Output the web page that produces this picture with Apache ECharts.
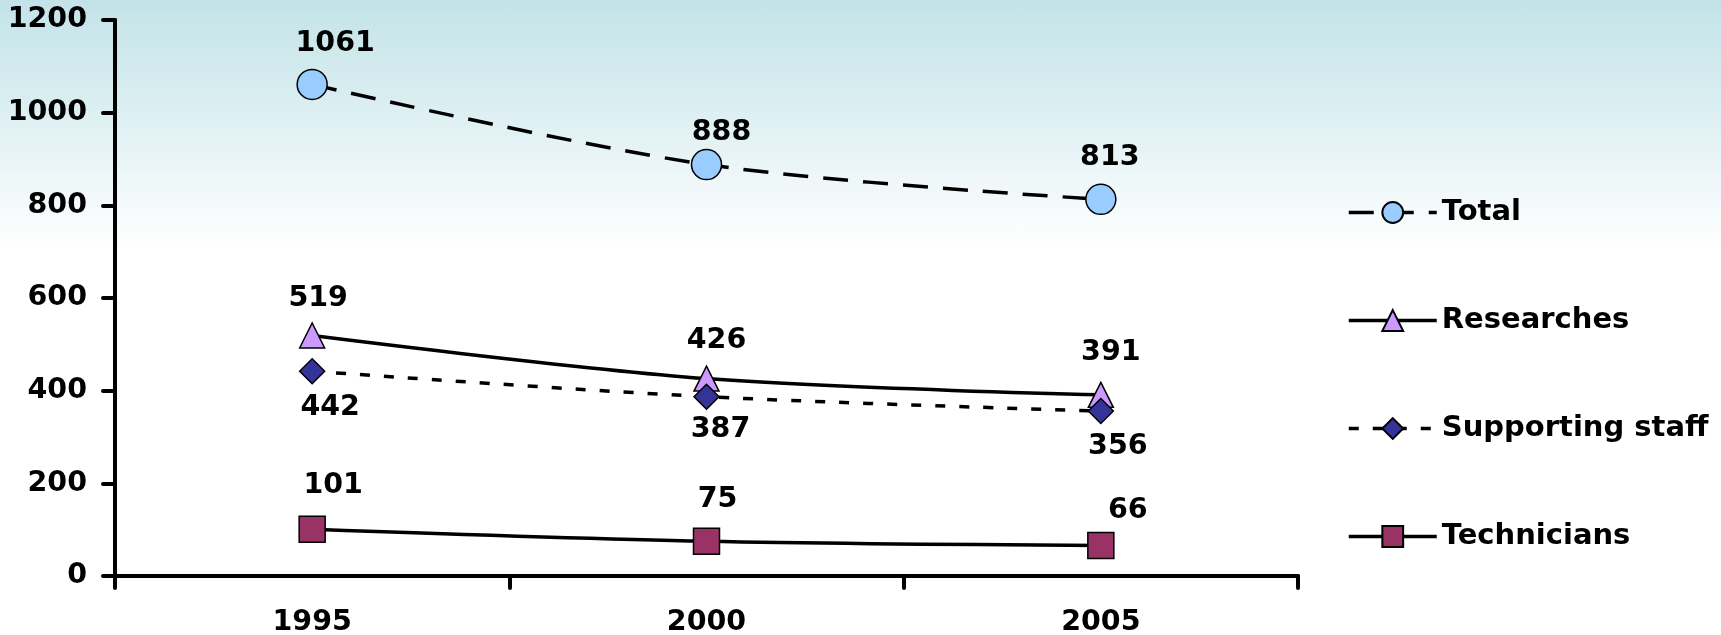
<!DOCTYPE html>
<html>
<head>
<meta charset="utf-8">
<script src="https://cdn.jsdelivr.net/npm/echarts@6/dist/echarts.min.js"></script>
<style>
  html, body { margin: 0; padding: 0; }
  #chart {
    width: 1721px; height: 635px;
    background: linear-gradient(to bottom, #c3e3e8 0px, #dceff2 110px, #f1f8fa 190px, #ffffff 250px, #ffffff 635px);
  }
</style>
</head>
<body>
<div id="chart"></div>
<script>
// Staff numbers by year
const years = ['1995', '2000', '2005'];
const total = [1061, 888, 813];
const researches = [519, 426, 391];
const supportingStaff = [442, 387, 356];
const technicians = [101, 75, 66];

// Value-axis ticks
const yMin = 0, yMax = 1200, yStep = 200;

// Label nudges (dx, dy) relative to each marker
const labelNudge = {
  total: [[23, -41], [15, -32], [9, -42]],
  researches: [[6, -37], [10, -38], [10, -42]],
  supporting: [[18, 36], [14, 33], [17, 36]],
  technicians: [[21, -44], [11, -42], [27, -35]]
};

const FONT = 'DejaVu Sans';
const LINE_W = 3.5;
const TOTAL_DASH = [25, 15];
const STAFF_DASH = [10, 14];

function withLabels(values, nudges) {
  return values.map((v, i) => ({
    value: v,
    label: { offset: nudges[i] }
  }));
}

function makeSeries(name, values, nudges, symbol, size, fill, lineType) {
  return {
    name: name,
    type: 'line',
    data: withLabels(values, nudges),
    smooth: 0.33,
    symbol: symbol,
    symbolSize: size,
    showAllSymbol: true,
    lineStyle: { color: '#000', width: LINE_W, type: lineType },
    itemStyle: { color: fill, borderColor: '#000', borderWidth: 1.5 },
    label: {
      show: true,
      position: 'inside',
      fontFamily: FONT,
      fontWeight: 'bold',
      fontSize: 28.5,
      color: '#000'
    },
    emphasis: { disabled: true }
  };
}

const chart = echarts.init(document.getElementById('chart'), null, { renderer: 'canvas' });

chart.setOption({
  backgroundColor: 'transparent',
  animation: false,
  textStyle: { fontFamily: FONT },
  grid: { left: 115, right: 423, top: 20, bottom: 59, containLabel: false, outerBoundsMode: 'none' },
  xAxis: {
    type: 'category',
    data: years,
    boundaryGap: true,
    axisLine: { lineStyle: { color: '#000', width: 4, cap: 'round' } },
    axisTick: { show: true, length: 12, inside: false, lineStyle: { color: '#000', width: 4, cap: 'round' } },
    axisLabel: { margin: 32, fontFamily: FONT, fontWeight: 'bold', fontSize: 28.5, color: '#000' },
    splitLine: { show: false }
  },
  yAxis: {
    type: 'value',
    min: yMin,
    max: yMax,
    interval: yStep,
    axisLine: { show: true, lineStyle: { color: '#000', width: 4, cap: 'round' } },
    axisTick: { show: true, length: 12, lineStyle: { color: '#000', width: 4, cap: 'round' } },
    axisLabel: {
      margin: 28, fontFamily: FONT, fontWeight: 'bold', fontSize: 28.5, color: '#000',
      formatter: v => String(v)
    },
    splitLine: { show: false }
  },
  legend: {
    orient: 'vertical',
    left: 1347,
    top: 198,
    padding: 0,
    itemWidth: 88,
    itemHeight: 26,
    itemGap: 79,
    textStyle: { fontFamily: FONT, fontWeight: 'bold', fontSize: 29, color: '#000', lineHeight: 26 },
    data: [
      { name: 'Total', lineStyle: { width: LINE_W, color: '#000', type: TOTAL_DASH } },
      { name: 'Researches', lineStyle: { width: LINE_W, color: '#000', type: 'solid' } },
      { name: 'Supporting staff', lineStyle: { width: LINE_W, color: '#000', type: STAFF_DASH } },
      { name: 'Technicians', lineStyle: { width: LINE_W, color: '#000', type: 'solid' } }
    ]
  },
  series: [
    makeSeries('Total', total, labelNudge.total, 'circle', 30, '#99ccff', TOTAL_DASH),
    makeSeries('Researches', researches, labelNudge.researches, 'triangle', 25, '#cc99ff', 'solid'),
    makeSeries('Supporting staff', supportingStaff, labelNudge.supporting, 'diamond', 25, '#333399', STAFF_DASH),
    makeSeries('Technicians', technicians, labelNudge.technicians, 'rect', 26, '#993366', 'solid')
  ]
});
</script>
</body>
</html>
